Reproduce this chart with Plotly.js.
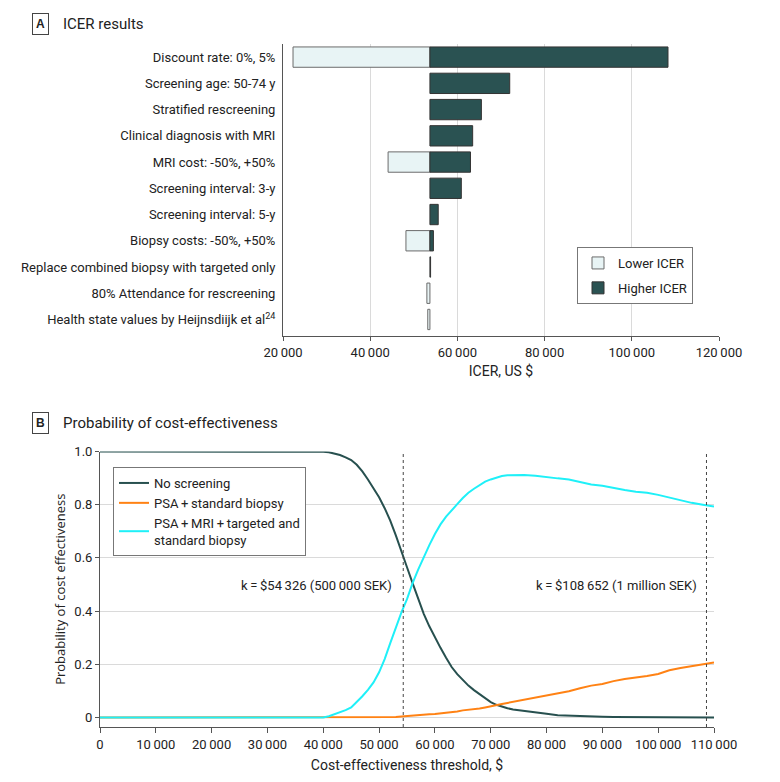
<!DOCTYPE html>
<html>
<head>
<meta charset="utf-8">
<script src="https://cdn.plot.ly/plotly-3.0.1.min.js"></script>
<style>html,body{margin:0;padding:0;background:#fff;}#chart{width:780px;height:782px;}</style>
</head>
<body>
<div id="chart"></div>
<script>
// ---------- Panel A: ICER tornado ----------
const baseICER = 53700;
const scenarios = [
  "Discount rate: 0%, 5%",
  "Screening age: 50-74 y",
  "Stratified rescreening",
  "Clinical diagnosis with MRI",
  "MRI cost: -50%, +50%",
  "Screening interval: 3-y",
  "Screening interval: 5-y",
  "Biopsy costs: -50%, +50%",
  "Replace combined biopsy with targeted only",
  "80% Attendance for rescreening",
  "Health state values by Heijnsdiijk et al<sup>24</sup>"
];
const lowerICER  = [22300, null, null, null, 44100, null, null, 48200, null, 53000, 53200];
const higherICER = [108300, 72000, 65500, 63500, 63000, 60900, 55600, 54500, 53850, null, null];
const icerTicks = [20000, 40000, 60000, 80000, 100000, 120000];
const icerTickText = ["20\u2009000", "40\u2009000", "60\u2009000", "80\u2009000", "100\u2009000", "120\u2009000"];

// ---------- Panel B: acceptability curves ----------
const thresholds = [0, 10000, 20000, 30000,
  39000, 40000, 41000, 42000, 43000, 44000, 45000, 46000, 47000, 48000, 49000,
  50000, 51000, 52000, 53000, 54000, 55000, 56000, 57000, 58000, 59000,
  60000, 61000, 62000, 63000, 64000, 65000, 66000, 67000, 68000, 69000,
  70000, 71000, 72000, 73000, 74000,
  76000, 78000, 80000, 82000, 84000, 86000, 88000, 90000, 92000, 94000,
  96000, 98000, 100000, 102000, 104000, 106000, 108000, 110000];
const noScreening = [1, 1, 1, 1,
  1.000, 0.999, 0.997, 0.993, 0.987, 0.978, 0.968, 0.950, 0.925, 0.895, 0.863,
  0.828, 0.787, 0.740, 0.685, 0.622, 0.565, 0.505, 0.447, 0.390, 0.343,
  0.300, 0.262, 0.225, 0.190, 0.163, 0.140, 0.120, 0.103, 0.087, 0.072,
  0.058, 0.048, 0.040, 0.035, 0.030,
  0.024, 0.018, 0.014, 0.009, 0.007, 0.005, 0.004, 0.003, 0.002, 0.002,
  0.001, 0.001, 0.001, 0.000, 0.000, 0.000, 0.000, 0.000];
const psaStandard = [0, 0, 0, 0,
  0, 0, 0, 0, 0, 0, 0, 0, 0, 0, 0,
  0, 0, 0, 0.002, 0.004, 0.006, 0.008, 0.010, 0.011, 0.012,
  0.013, 0.015, 0.017, 0.019, 0.023, 0.027, 0.029, 0.031, 0.034, 0.038,
  0.043, 0.047, 0.051, 0.055, 0.059,
  0.067, 0.075, 0.084, 0.091, 0.099, 0.110, 0.120, 0.126, 0.137, 0.145,
  0.150, 0.156, 0.164, 0.178, 0.186, 0.193, 0.200, 0.207];
const psaMriTargeted = [0, 0, 0, 0,
  0, 0, 0.005, 0.012, 0.020, 0.028, 0.038, 0.058, 0.080, 0.104, 0.132,
  0.170, 0.220, 0.280, 0.340, 0.395, 0.445, 0.505, 0.556, 0.605, 0.648,
  0.690, 0.726, 0.755, 0.780, 0.802, 0.825, 0.845, 0.860, 0.875, 0.887,
  0.895, 0.902, 0.908, 0.911, 0.911,
  0.912, 0.909, 0.903, 0.899, 0.895, 0.885, 0.876, 0.871, 0.862, 0.855,
  0.849, 0.845, 0.837, 0.826, 0.817, 0.807, 0.800, 0.793];
const kLow = 54326, kHigh = 108652;
const kLowLabel = "k\u2009=\u2009$54\u2009326 (500\u2009000 SEK)";
const kHighLabel = "k\u2009=\u2009$108\u2009652 (1 million SEK)";
const thrTicks = [0, 10000, 20000, 30000, 40000, 50000, 60000, 70000, 80000, 90000, 100000, 110000];
const thrTickText = ["0", "10\u2009000", "20\u2009000", "30\u2009000", "40\u2009000", "50\u2009000", "60\u2009000", "70\u2009000", "80\u2009000", "90\u2009000", "100\u2009000", "110\u2009000"];
const probTicks = [0, 0.2, 0.4, 0.6, 0.8, 1.0];
const probTickText = ["0", "0.2", "0.4", "0.6", "0.8", "1.0"];

// ---------- styling ----------
const NARROW = "Roboto, 'DejaVu Sans Condensed', sans-serif";
const DARK = "#2a5252", LIGHT = "#e8f4f5";
const W = 780, H = 782;
const px = v => v / W, py = v => 1 - v / H;

const traces = [
  {
    type: "bar", orientation: "h", name: "Lower ICER",
    y: scenarios, base: baseICER,
    x: lowerICER.map(v => v === null ? null : v - baseICER),
    width: 0.775,
    marker: {color: LIGHT, line: {color: "#6b6b6b", width: 1}},
    xaxis: "x", yaxis: "y", legend: "legend", legendgroup: "lo", hoverinfo: "skip"
  },
  {
    type: "bar", orientation: "h", name: "Higher ICER",
    y: scenarios, base: baseICER,
    x: higherICER.map(v => v === null ? null : v - baseICER),
    width: 0.775,
    marker: {color: DARK, line: {color: "#333", width: 1}},
    xaxis: "x", yaxis: "y", legend: "legend", legendgroup: "hi", hoverinfo: "skip"
  },
  {
    type: "scatter", mode: "lines", name: "No screening",
    x: thresholds, y: noScreening,
    line: {color: "#27504f", width: 2},
    xaxis: "x2", yaxis: "y2", legend: "legend2"
  },
  {
    type: "scatter", mode: "lines", name: "PSA\u2009+\u2009standard biopsy",
    x: thresholds, y: psaStandard,
    line: {color: "#ff8214", width: 2},
    xaxis: "x2", yaxis: "y2", legend: "legend2"
  },
  {
    type: "scatter", mode: "lines", name: "PSA\u2009+\u2009MRI\u2009+\u2009targeted and<br>standard biopsy",
    x: thresholds, y: psaMriTargeted,
    line: {color: "#1ff0f8", width: 2},
    xaxis: "x2", yaxis: "y2", legend: "legend2"
  }
];

const tickFont = {family: NARROW, size: 13, color: "#222"};

const layout = {
  width: W, height: H,
  margin: {l: 0, r: 0, t: 0, b: 0},
  paper_bgcolor: "#fff", plot_bgcolor: "#fff",
  font: {family: NARROW, size: 13, color: "#222"},
  barmode: "overlay",
  showlegend: true,
  xaxis: {
    domain: [px(283), px(719)], anchor: "y",
    range: [20000, 120000],
    tickvals: icerTicks, ticktext: icerTickText,
    ticks: "outside", ticklen: 4, tickcolor: "#555",
    showline: true, linecolor: "#555", linewidth: 1,
    showgrid: true, gridcolor: "#dadada", zeroline: false,
    tickfont: tickFont,
    title: {text: "ICER, US $", font: {family: NARROW, size: 14, color: "#222"}, standoff: 7}
  },
  yaxis: {
    domain: [py(336), py(44)], anchor: "x",
    type: "category", range: [10.63, -0.5],
    showline: true, linecolor: "#555", linewidth: 1,
    showgrid: false, zeroline: false, ticks: "",
    ticklabelstandoff: 4,
    tickfont: tickFont
  },
  xaxis2: {
    domain: [px(100), px(714)], anchor: "y2",
    range: [0, 110000],
    tickvals: thrTicks, ticktext: thrTickText,
    ticks: "outside", ticklen: 5, tickcolor: "#555",
    showline: true, linecolor: "#555", linewidth: 1,
    showgrid: false, zeroline: false,
    tickfont: tickFont,
    title: {text: "Cost-effectiveness threshold, $", font: {family: NARROW, size: 14, color: "#222"}, standoff: 9}
  },
  yaxis2: {
    domain: [py(727), py(451.5)], anchor: "x2",
    range: [-0.0355, 1.0],
    tickvals: probTicks, ticktext: probTickText,
    ticks: "outside", ticklen: 4, tickcolor: "#555",
    showline: true, linecolor: "#555", linewidth: 1,
    showgrid: true, gridcolor: "#dadada", zeroline: false,
    tickfont: tickFont,
    title: {text: "Probability of cost effectiveness", font: {family: "'Open Sans', 'Noto Sans', sans-serif", size: 13, color: "#222"}, standoff: 5}
  },
  legend: {
    x: px(577), y: py(247), xanchor: "left", yanchor: "top",
    bgcolor: "#fff", bordercolor: "#777", borderwidth: 1,
    font: {family: NARROW, size: 13, color: "#222"},
    itemwidth: 30, tracegroupgap: 5, traceorder: "grouped"
  },
  legend2: {
    x: px(113), y: py(467), xanchor: "left", yanchor: "top",
    bgcolor: "#fff", bordercolor: "#777", borderwidth: 1,
    font: {family: NARROW, size: 13, color: "#222"},
    itemwidth: 30, traceorder: "normal"
  },
  shapes: [
    {type: "line", xref: "x2", yref: "y2 domain", x0: kLow, x1: kLow, y0: 0, y1: 1,
     line: {color: "#444", width: 1, dash: "dot"}},
    {type: "line", xref: "x2", yref: "y2 domain", x0: kHigh, x1: kHigh, y0: 0, y1: 1,
     line: {color: "#444", width: 1, dash: "dot"}}
  ],
  annotations: [
    {xref: "paper", yref: "paper", x: px(40), y: py(24), text: "<b>A</b>", showarrow: false,
     font: {family: "'Liberation Sans', Arial, sans-serif", size: 12, color: "#222"},
     bordercolor: "#444", borderwidth: 1, borderpad: 3, xanchor: "center", yanchor: "middle"},
    {xref: "paper", yref: "paper", x: px(61), y: py(24), text: "ICER results", showarrow: false,
     font: {family: NARROW, size: 15, color: "#222"}, xanchor: "left", yanchor: "middle"},
    {xref: "paper", yref: "paper", x: px(40), y: py(423), text: "<b>B</b>", showarrow: false,
     font: {family: "'Liberation Sans', Arial, sans-serif", size: 12, color: "#222"},
     bordercolor: "#444", borderwidth: 1, borderpad: 3, xanchor: "center", yanchor: "middle"},
    {xref: "paper", yref: "paper", x: px(61), y: py(423), text: "Probability of cost-effectiveness", showarrow: false,
     font: {family: NARROW, size: 15, color: "#222"}, xanchor: "left", yanchor: "middle"},
    {xref: "x2", yref: "y2", x: kLow, y: 0.495, xshift: -9, text: kLowLabel, showarrow: false,
     font: {family: NARROW, size: 13, color: "#222"}, xanchor: "right", yanchor: "middle"},
    {xref: "x2", yref: "y2", x: kHigh, y: 0.495, xshift: -7, text: kHighLabel, showarrow: false,
     font: {family: NARROW, size: 13, color: "#222"}, xanchor: "right", yanchor: "middle"}
  ]
};

Plotly.newPlot("chart", traces, layout, {staticPlot: true, displayModeBar: false});
</script>
</body>
</html>
